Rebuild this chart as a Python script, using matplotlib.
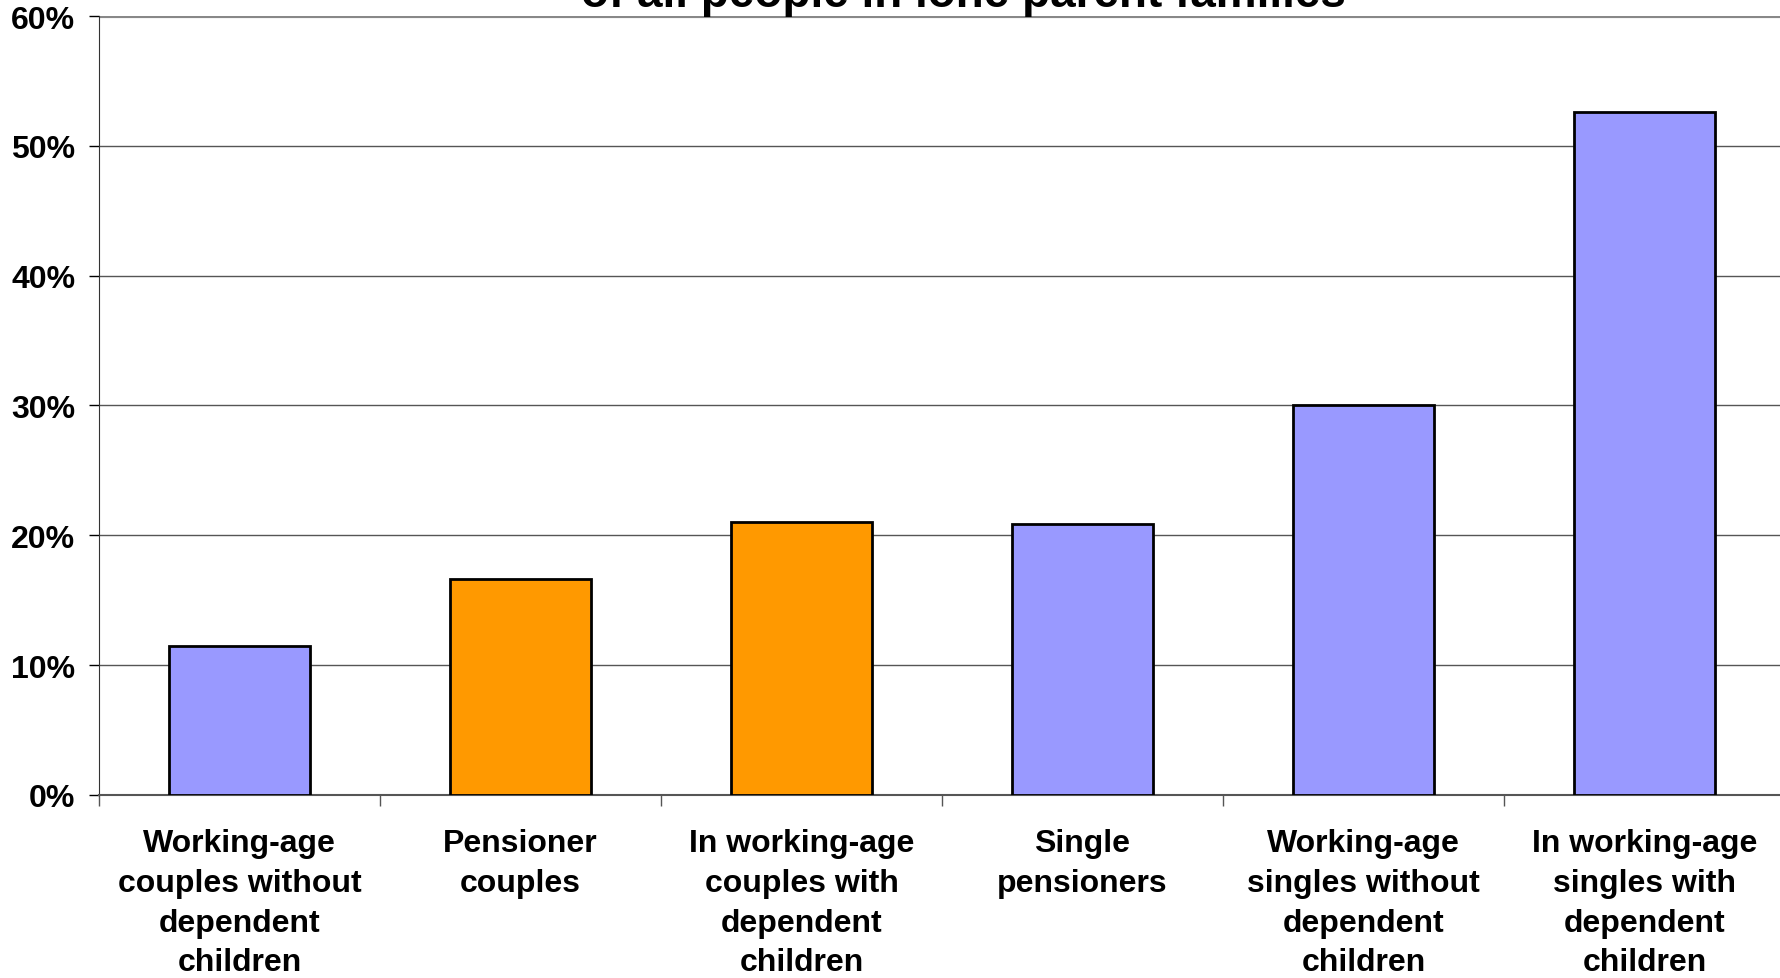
import numpy as np
import matplotlib.pyplot as plt

plt.rcParams['font.family'] = ['Liberation Sans', 'DejaVu Sans']
plt.rcParams['font.weight'] = 'bold'

categories = ['Working-age\ncouples without\ndependent\nchildren',
              'Pensioner\ncouples',
              'In working-age\ncouples with\ndependent\nchildren',
              'Single\npensioners',
              'Working-age\nsingles without\ndependent\nchildren',
              'In working-age\nsingles with\ndependent\nchildren']
values = [11.5, 16.6, 21.0, 20.9, 30.0, 52.6]
colors = ['#9999FF', '#FF9900', '#FF9900', '#9999FF', '#9999FF', '#9999FF']
yticks = [0, 10, 20, 30, 40, 50, 60]

fig = plt.figure(figsize=(17.81, 9.79), dpi=100)
ax = fig.add_axes([0.0556, 0.187, 0.9466, 0.7956])

x = np.arange(len(categories))
ax.bar(x, values, width=0.5, color=colors, edgecolor='black', linewidth=2, zorder=3)

ax.set_xlim(-0.5, len(categories) - 0.5)
ax.set_ylim(0, 60)
ax.set_yticks(yticks)
ax.set_yticklabels([f'{v}%' for v in yticks], fontsize=23, fontweight='bold')
ax.yaxis.grid(True, color='#555555', linewidth=1, zorder=0)
ax.tick_params(axis='y', length=7, width=1, pad=10)

ax.set_xticks(x)
ax.set_xticklabels(categories, fontsize=23, fontweight='bold', linespacing=1.42)
ax.set_xticks(np.arange(len(categories)) - 0.5, minor=True)
ax.tick_params(axis='x', which='major', length=0, pad=24)
ax.tick_params(axis='x', which='minor', length=8, width=1, color='#555555')

for s in ['top', 'right']:
    ax.spines[s].set_visible(False)
ax.spines['left'].set_color('#333333')
ax.spines['bottom'].set_color('#555555')
ax.spines['bottom'].set_linewidth(1.5)
ax.axhline(60, color='#888888', linewidth=3, zorder=2)

fig.text(0.541, 0.993, 'of all people in lone parent families', ha='center',
         va='baseline', fontsize=33, fontweight='bold')

plt.savefig('out.png', dpi=100)
